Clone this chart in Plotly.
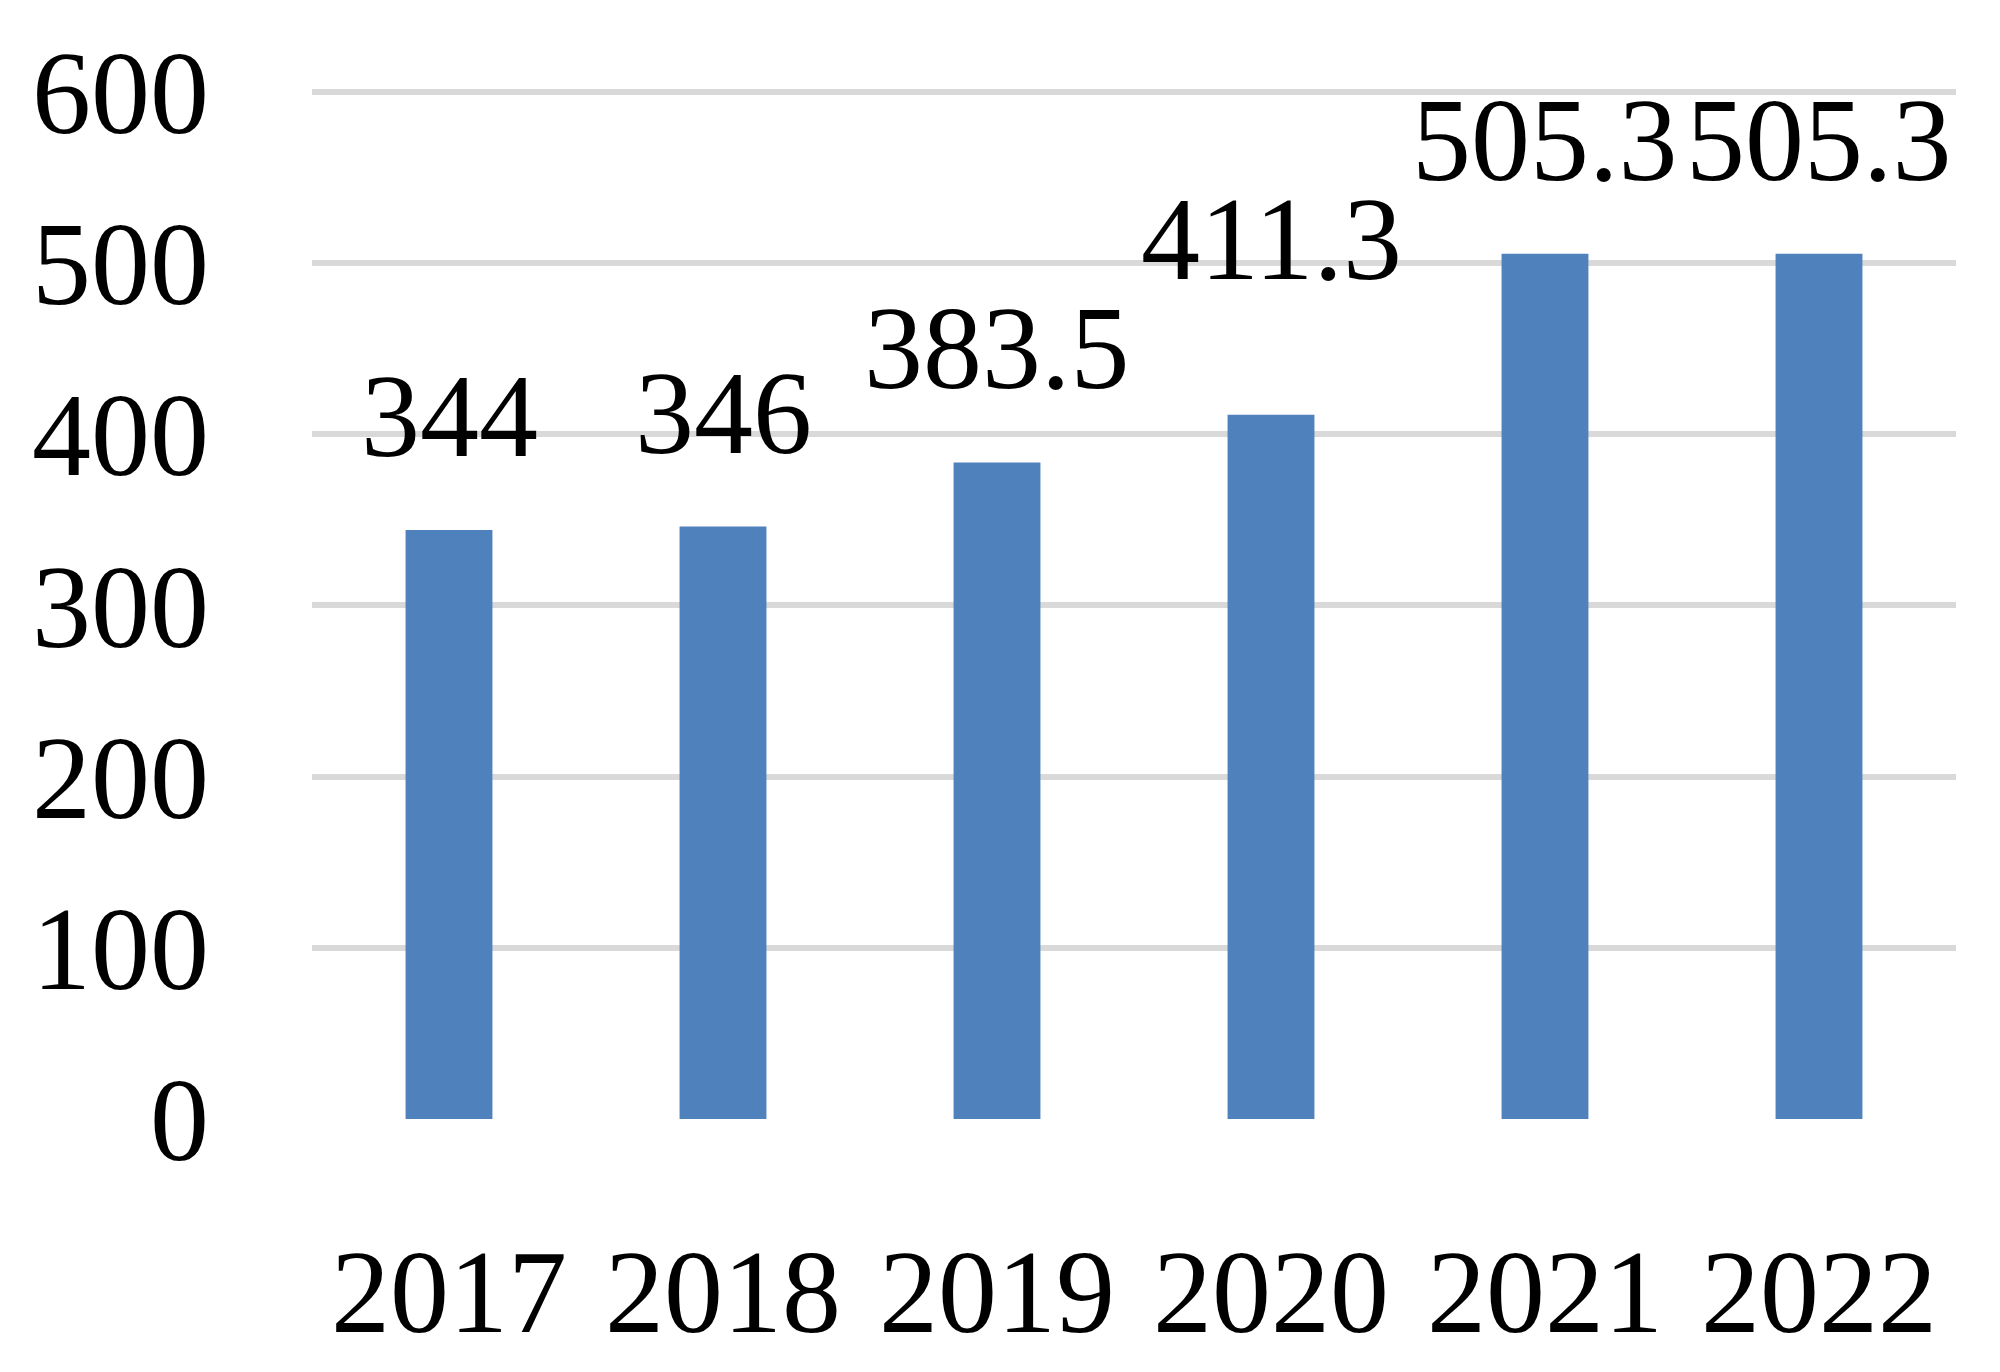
import plotly.graph_objects as go

years = ["2017", "2018", "2019", "2020", "2021", "2022"]
values = [344, 346, 383.5, 411.3, 505.3, 505.3]
labels = ["344", "346", "383.5", "411.3", "505.3", "505.3"]
y_ticks = [0, 100, 200, 300, 400, 500, 600]

FONT = "Liberation Serif"
FS = 118
BAR_COLOR = "#4F81BD"
GRID_COLOR = "#D9D9D9"

# extra vertical offset (px) for individual labels, as positioned in the original
label_extra_shift = {"2020": 62}

fig = go.Figure()
fig.add_trace(go.Bar(
    x=years, y=values,
    marker=dict(color=BAR_COLOR, line=dict(width=0)),
    showlegend=False,
))

for i, (yr, v, t) in enumerate(zip(years, values, labels)):
    fig.add_annotation(
        x=i, y=v, text=t, showarrow=False,
        xanchor="center", yanchor="bottom",
        yshift=46 + label_extra_shift.get(yr, 0),
        font=dict(family=FONT, size=FS, color="#000000"),
    )

fig.update_layout(
    width=2000, height=1372,
    margin=dict(l=304, r=52, t=82, b=261, autoexpand=False),
    paper_bgcolor="white", plot_bgcolor="white",
    bargap=0.683,
    font=dict(family=FONT, size=FS, color="#000000"),
)
fig.update_xaxes(
    type="category", categoryorder="array", categoryarray=years,
    range=[-0.5, len(years) - 0.5],
    showgrid=False, zeroline=False, showline=False, automargin=False,
    ticks="", ticklabelstandoff=94,
    tickfont=dict(family=FONT, size=FS, color="#000000"),
)
fig.update_yaxes(
    range=[0, 601],
    tickvals=y_ticks, ticktext=[str(v) for v in y_ticks],
    showgrid=True, gridcolor=GRID_COLOR, gridwidth=6,
    zeroline=False, showline=False, automargin=False,
    ticks="", ticklabelstandoff=102,
    tickfont=dict(family=FONT, size=FS, color="#000000"),
)

fig.write_html("out.html")
